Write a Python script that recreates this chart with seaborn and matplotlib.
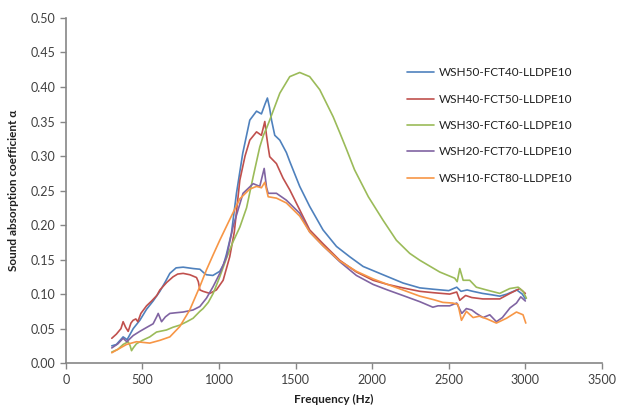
import pandas as pd
import matplotlib
matplotlib.use("Agg")
import matplotlib.pyplot as plt
import seaborn as sns

# -------------------- Data --------------------

labels = ["WSH50-FCT40-LLDPE10", "WSH40-FCT50-LLDPE10", "WSH30-FCT60-LLDPE10",
          "WSH20-FCT70-LLDPE10", "WSH10-FCT80-LLDPE10"]
colors = ["#4F81BD", "#C0504D", "#9BBB59", "#8064A2", "#F79646"]

freq_wsh50 = [300, 330, 374, 400, 440, 483, 527, 570, 614, 650, 679, 720, 766, 831, 875, 900,
              918, 960, 1005, 1030, 1049, 1081, 1114, 1155, 1201, 1245, 1277, 1300, 1316, 1330,
              1343, 1364, 1397, 1440, 1462, 1527, 1592, 1679, 1767, 1854, 1941, 2071, 2202, 2311,
              2400, 2500, 2552, 2580, 2620, 2657, 2720, 2780, 2833, 2880, 2944, 2980, 3000]
alpha_wsh50 = [0.025, 0.027, 0.038, 0.034, 0.050, 0.062, 0.078, 0.090, 0.104, 0.118, 0.130, 0.138,
               0.139, 0.137, 0.136, 0.131, 0.128, 0.127, 0.133, 0.143, 0.158, 0.188, 0.246, 0.304,
               0.352, 0.365, 0.361, 0.375, 0.384, 0.370, 0.352, 0.330, 0.323, 0.305, 0.292, 0.256,
               0.227, 0.193, 0.169, 0.154, 0.140, 0.128, 0.116, 0.109, 0.107, 0.105, 0.110, 0.104,
               0.106, 0.104, 0.101, 0.099, 0.097, 0.100, 0.106, 0.100, 0.093]

freq_wsh40 = [300, 330, 360, 374, 390, 407, 425, 439, 457, 470, 490, 527, 560, 594, 614, 659, 700,
              730, 766, 810, 853, 865, 875, 896, 940, 983, 1027, 1070, 1100, 1136, 1170, 1201, 1245,
              1277, 1299, 1310, 1321, 1331, 1375, 1418, 1462, 1527, 1592, 1679, 1788, 1897, 2006,
              2100, 2200, 2311, 2400, 2506, 2552, 2572, 2610, 2650, 2722, 2833, 2900, 2963, 3000]
alpha_wsh40 = [0.036, 0.042, 0.050, 0.060, 0.052, 0.046, 0.058, 0.062, 0.064, 0.060, 0.072, 0.083,
               0.090, 0.098, 0.106, 0.117, 0.125, 0.129, 0.130, 0.128, 0.124, 0.118, 0.106, 0.104,
               0.101, 0.106, 0.120, 0.154, 0.190, 0.265, 0.300, 0.323, 0.335, 0.330, 0.350, 0.330,
               0.313, 0.299, 0.289, 0.268, 0.251, 0.222, 0.193, 0.173, 0.149, 0.132, 0.120, 0.114,
               0.109, 0.104, 0.102, 0.100, 0.103, 0.091, 0.098, 0.095, 0.093, 0.093, 0.101, 0.108,
               0.101]

freq_wsh30 = [300, 340, 374, 407, 420, 429, 440, 461, 500, 548, 592, 657, 700, 744, 790, 831, 875,
              896, 930, 962, 1005, 1049, 1090, 1136, 1180, 1223, 1266, 1290, 1310, 1331, 1397, 1462,
              1527, 1592, 1658, 1745, 1790, 1832, 1885, 1975, 2071, 2158, 2245, 2311, 2441, 2539,
              2555, 2572, 2594, 2637, 2680, 2746, 2833, 2898, 2953, 2985, 3007]
alpha_wsh30 = [0.016, 0.020, 0.027, 0.031, 0.025, 0.018, 0.022, 0.028, 0.033, 0.038, 0.045, 0.048,
               0.052, 0.055, 0.060, 0.065, 0.075, 0.079, 0.088, 0.101, 0.125, 0.152, 0.175, 0.197,
               0.225, 0.270, 0.313, 0.330, 0.340, 0.352, 0.391, 0.415, 0.421, 0.415, 0.396, 0.357,
               0.333, 0.310, 0.280, 0.241, 0.207, 0.178, 0.159, 0.149, 0.132, 0.123, 0.118, 0.137,
               0.120, 0.120, 0.110, 0.106, 0.101, 0.108, 0.110, 0.104, 0.094]

freq_wsh20 = [300, 340, 374, 398, 440, 483, 530, 570, 595, 603, 625, 650, 679, 720, 766, 831, 875,
              918, 962, 1005, 1049, 1092, 1157, 1223, 1266, 1295, 1310, 1321, 1375, 1440, 1527, 1592,
              1679, 1788, 1897, 2006, 2100, 2200, 2311, 2396, 2430, 2506, 2552, 2585, 2615, 2650,
              2680, 2724, 2768, 2811, 2850, 2900, 2942, 2970, 3000]
alpha_wsh20 = [0.022, 0.028, 0.036, 0.031, 0.040, 0.046, 0.052, 0.057, 0.068, 0.072, 0.060, 0.067,
               0.072, 0.073, 0.074, 0.077, 0.082, 0.094, 0.111, 0.130, 0.154, 0.198, 0.246, 0.260,
               0.256, 0.282, 0.255, 0.246, 0.246, 0.236, 0.217, 0.190, 0.170, 0.147, 0.127, 0.114,
               0.106, 0.098, 0.089, 0.081, 0.083, 0.083, 0.087, 0.072, 0.079, 0.077, 0.072, 0.066,
               0.070, 0.060, 0.066, 0.080, 0.087, 0.096, 0.090]

freq_wsh10 = [300, 340, 396, 461, 548, 614, 679, 744, 809, 875, 918, 962, 1005, 1070, 1136, 1200,
              1245, 1277, 1299, 1321, 1375, 1440, 1527, 1592, 1679, 1788, 1897, 2006, 2100, 2200,
              2311, 2400, 2461, 2526, 2560, 2583, 2615, 2659, 2700, 2750, 2811, 2877, 2942, 2985,
              3003]
alpha_wsh10 = [0.015, 0.020, 0.027, 0.031, 0.029, 0.033, 0.038, 0.053, 0.077, 0.111, 0.135, 0.157,
               0.178, 0.208, 0.238, 0.252, 0.256, 0.254, 0.262, 0.241, 0.239, 0.232, 0.213, 0.190,
               0.170, 0.148, 0.133, 0.122, 0.114, 0.106, 0.097, 0.092, 0.088, 0.087, 0.085, 0.062,
               0.075, 0.066, 0.068, 0.064, 0.058, 0.065, 0.074, 0.070, 0.058]

x_ticks = [0, 500, 1000, 1500, 2000, 2500, 3000, 3500]
y_ticks = [0.00, 0.05, 0.10, 0.15, 0.20, 0.25, 0.30, 0.35, 0.40, 0.45, 0.50]

# -------------------- Build long table --------------------

series = [(freq_wsh50, alpha_wsh50), (freq_wsh40, alpha_wsh40), (freq_wsh30, alpha_wsh30),
          (freq_wsh20, alpha_wsh20), (freq_wsh10, alpha_wsh10)]
frames = []
for name, (f, a) in zip(labels, series):
    frames.append(pd.DataFrame({"Frequency (Hz)": f, "alpha": a, "Sample": name}))
data = pd.concat(frames, ignore_index=True)

# -------------------- Plot --------------------

sns.set_style("white")
plt.rcParams["font.family"] = ["Lato", "DejaVu Sans"]

fig = plt.figure(figsize=(6.27, 4.08), dpi=100)
ax = fig.add_axes([0.105, 0.110, 0.855, 0.846])

sns.lineplot(data=data, x="Frequency (Hz)", y="alpha", hue="Sample", hue_order=labels,
             palette=colors, estimator=None, sort=True, linewidth=1.2, ax=ax)

ax.set_xlim(0, 3500)
ax.set_ylim(0, 0.5)
ax.set_xticks(x_ticks)
ax.set_yticks(y_ticks)
ax.set_yticklabels([f"{v:.2f}" for v in y_ticks])
ax.tick_params(axis="both", labelsize=9, colors="#868686", labelcolor="#404040",
               direction="out", length=4, width=1, left=True, bottom=True)

for side in ["top", "right"]:
    ax.spines[side].set_visible(False)
for side in ["left", "bottom"]:
    ax.spines[side].set_color("#868686")
    ax.spines[side].set_linewidth(1.2)

ax.set_xlabel("Frequency (Hz)", fontsize=8.5, fontweight="bold", color="#202020", labelpad=6)
ax.set_ylabel("Sound absorption coefficient \u03b1", fontsize=8.5, fontweight="bold",
              color="#202020", labelpad=8)

leg = ax.legend(loc="upper left", bbox_to_anchor=(0.649, 0.835), bbox_transform=fig.transFigure,
                frameon=False, fontsize=8.5, handlelength=2.3, handletextpad=0.4,
                labelspacing=1.3, borderpad=0, borderaxespad=0)
for line in leg.get_lines():
    line.set_linewidth(1.2)
for t in leg.get_texts():
    t.set_color("#202020")

fig.savefig("out.png", dpi=100)
plt.close(fig)
